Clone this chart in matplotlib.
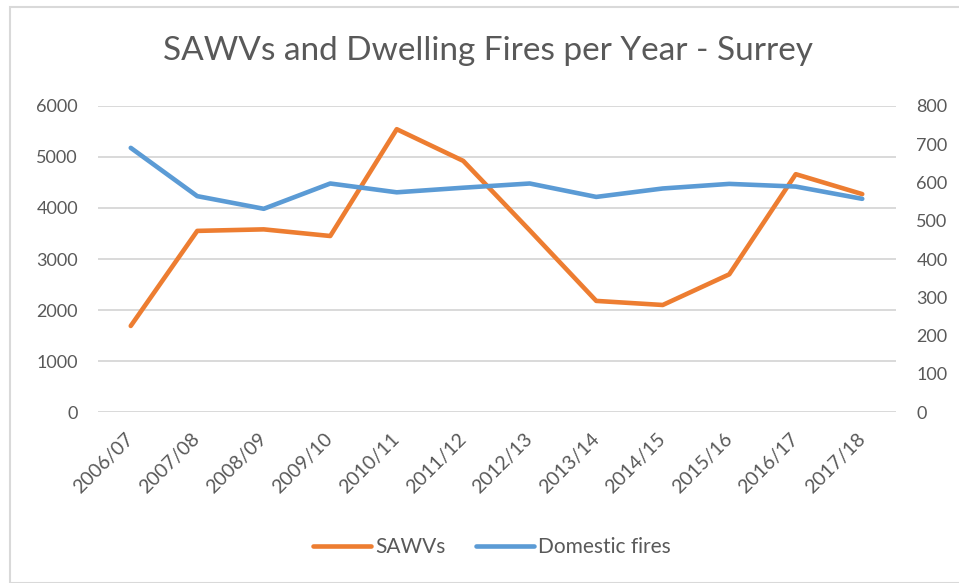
import matplotlib
matplotlib.use("Agg")
import matplotlib.pyplot as plt
from matplotlib.patches import Rectangle

plt.rcParams['font.family'] = ['Lato', 'DejaVu Sans']

years = ["2006/07", "2007/08", "2008/09", "2009/10", "2010/11", "2011/12",
         "2012/13", "2013/14", "2014/15", "2015/16", "2016/17", "2017/18"]
sawvs = [1690, 3550, 3580, 3450, 5540, 4920, 3560, 2180, 2100, 2700, 4660, 4270]
domestic_fires = [690, 564, 531, 597, 574, 586, 597, 562, 584, 596, 589, 557]
left_ticks = [0, 1000, 2000, 3000, 4000, 5000, 6000]
right_ticks = [0, 100, 200, 300, 400, 500, 600, 700, 800]

ORANGE = "#ED7D31"
BLUE = "#5B9BD5"
GRID = "#D9D9D9"
TEXT = "#595959"

fig = plt.figure(figsize=(9.59, 5.83), dpi=100)
fig.patches.append(Rectangle((9.5/959, 0), 1, 1 - 6.5/583, transform=fig.transFigure,
                             fill=False, edgecolor=GRID, linewidth=1.5))

ax = fig.add_axes([97.5/959, 1 - 412.3/583, (895.5-97.5)/959, (412.3-105.7)/583])
x = list(range(len(years)))

ax.set_xlim(-0.5, len(years) - 0.5)
ax.set_ylim(0, 6000)
ax.set_yticks(left_ticks)
ax.set_yticklabels([str(v) for v in left_ticks])
for v in left_ticks:
    ax.axhline(v, color=GRID, linewidth=1.4, zorder=0)
for s in ax.spines.values():
    s.set_visible(False)
ax.tick_params(axis='y', length=0, pad=14, labelsize=13, labelcolor=TEXT)
ax.set_xticks(x)
ax.set_xticklabels(years, rotation=45, ha='right', va='center', rotation_mode='anchor')
ax.tick_params(axis='x', length=0, pad=17, labelsize=14, labelcolor=TEXT)

ax2 = ax.twinx()
ax2.set_ylim(0, 800)
ax2.set_yticks(right_ticks)
ax2.set_yticklabels([str(v) for v in right_ticks])
for s in ax2.spines.values():
    s.set_visible(False)
ax2.tick_params(axis='y', length=0, pad=15, labelsize=13, labelcolor=TEXT)

l1, = ax.plot(x, sawvs, color=ORANGE, linewidth=3.3, solid_capstyle='round',
              solid_joinstyle='round', label="SAWVs", zorder=3)
l2, = ax2.plot(x, domestic_fires, color=BLUE, linewidth=3.3, solid_capstyle='round',
               solid_joinstyle='round', label="Domestic fires", zorder=3)

fig.text(488/959, 1 - 51/583, "SAWVs and Dwelling Fires per Year - Surrey",
         ha='center', va='center', fontsize=24, color=TEXT)

fig.legend([l1, l2], ["SAWVs", "Domestic fires"], loc='center',
           bbox_to_anchor=(492/959, 1 - 547/583), ncol=2, frameon=False,
           fontsize=15, labelcolor=TEXT, handlelength=2.8, handletextpad=0.2,
           columnspacing=1.45)

fig.savefig("out.png", dpi=100)
